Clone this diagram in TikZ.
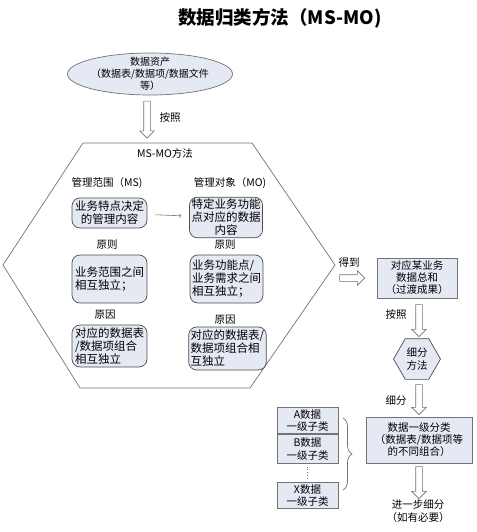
\documentclass[tikz,border=0pt]{standalone}
\usepackage{fontspec}
\setmainfont{Noto Sans CJK SC}
\usetikzlibrary{shapes.geometric, shapes.arrows, arrows.meta, arrows, positioning, decorations.pathreplacing}
\definecolor{boxfill}{RGB}{228,233,243}
\definecolor{edgegray}{RGB}{115,115,115}
\tikzstyle{rbox}=[rectangle, draw=black!70, fill=boxfill, line width=0.7pt,
    rounded corners=8pt, inner sep=2pt,
    font=\fontsize{11.5}{13}\selectfont]
\tikzstyle{sbox}=[rectangle, draw=edgegray, fill=boxfill, line width=0.7pt,
    align=center, inner sep=2pt]
\tikzstyle{harrow}=[single arrow, draw=edgegray, fill=white, line width=0.6pt,
    inner sep=3pt, single arrow head extend=4pt, single arrow head indent=0pt]

\begin{document}
\begin{tikzpicture}
      [x=1pt, y=-1pt,
      font=\fontsize{10.5}{12.5}\selectfont,
      txt/.style={align=center, inner sep=1pt},
      line/.style={draw, edgegray, line width=0.6pt, shorten >=8pt, shorten <=8pt, ->, >=to}]
    \useasboundingbox (0,0) rectangle (476,532);

    \node [txt, font=\fontsize{18.5}{20}\selectfont\bfseries] (title) at (280,18) {数据归类方法（MS-MO)};

    \node [ellipse, draw=edgegray, fill=boxfill, line width=0.7pt, align=center,
      minimum width=165, minimum height=42, inner xsep=-2pt, inner ysep=-3pt,
      font=\fontsize{10}{12}\selectfont] (asset) at (150,74) {数据资产\\（数据表/数据项/数据文件\\等）};
    \node [harrow, rotate=-90, minimum height=37] (byA) at (147,118) {};
    \node [txt] (byAtext) at (170,118) {按照};

    \draw [edgegray, line width=0.7pt] (83,143) -- (252,143) -- (335,265) -- (250,388) -- (80,388) -- (3,265) -- cycle;
    \coordinate (hexR) at (335,265);
    \node [txt] (method) at (165,153) {MS-MO方法};
    \node [txt] (msHead) at (107,183) {管理范围（MS)};
    \node [txt] (moHead) at (230,183) {管理对象（MO)};

    \node [rbox, align=center, minimum width=75, minimum height=30] (ms1) at (109.5,213) {业务特点决定\\的管理内容};
    \node [rbox, align=center, minimum width=72, minimum height=35] (mo1) at (226,217.5) {特定业务功能\\点对应的数据\\内容};
    \node [txt] (msRule) at (107,245) {原则};
    \node [txt] (moRule) at (225,245) {原则};
    \node [rbox, align=left, minimum width=75, minimum height=48] (ms2) at (109.5,279) {业务范围之间\\相互独立；};
    \node [rbox, align=left, minimum width=73, minimum height=48] (mo2) at (226.5,279) {业务功能点/\\业务需求之间\\相互独立；};
    \node [txt] (msWhy) at (105,315) {原因};
    \node [txt] (moWhy) at (225,320) {原因};
    \node [rbox, align=left, minimum width=75, minimum height=42] (ms3) at (109.5,346) {对应的数据表\\/数据项组合\\相互独立};
    \node [rbox, align=left, minimum width=75, minimum height=43] (mo3) at (227.5,348.5) {对应的数据表/\\数据项组合相\\互独立};

    \node [harrow, minimum height=25] (get) at (350.5,278) {};
    \node [txt] (getText) at (349,263) {得到};
    \node [sbox, minimum width=80, minimum height=40, font=\fontsize{10.5}{12}\selectfont] (total) at (417,278) {对应某业务\\数据总和\\（过渡成果）};
    \node [harrow, rotate=-90, minimum height=32] (byB) at (419,319) {};
    \node [txt] (byBtext) at (396,315) {按照};
    \node [regular polygon, regular polygon sides=6, draw=black!70, fill=boxfill, line width=0.7pt,
      minimum size=47, inner sep=0pt, align=center] (split) at (417,359) {细分\\方法};
    \node [harrow, rotate=-90, minimum height=30] (splitArr) at (419,398) {};
    \node [txt] (splitText) at (396,400) {细分};
    \node [sbox, minimum width=106, minimum height=46, font=\fontsize{10.5}{12}\selectfont] (lvl1) at (419,440) {数据一级分类\\（数据表/数据项等\\的不同组合）};
    \node [harrow, rotate=-90, minimum height=32] (moreArr) at (419,481) {};
    \node [txt, font=\fontsize{10.5}{12.5}\selectfont] (more) at (418,511) {进一步细分\\（如有必要）};

    \node [sbox, minimum width=61, minimum height=25] (subA) at (307.5,420.5) {A数据\\一级子类};
    \node [sbox, minimum width=61, minimum height=29, below=0pt of subA] (subB) {B数据\\一级子类};
    \node [sbox, minimum width=61, minimum height=25] (subX) at (307.5,495.5) {X数据\\一级子类};
    \coordinate (braceTop) at (343,418);
    \coordinate (braceBot) at (343,490);

    \begin{scope}[every path/.style=line]
      \path (ms1) -- (mo1);
    \end{scope}
    \draw [edgegray, dotted, line width=0.8pt, shorten >=3pt, shorten <=3pt] (subB.south) -- (subX.north);
    \draw [edgegray, line width=0.7pt, decorate, decoration={brace, amplitude=9pt}] (braceTop) -- (braceBot);

\end{tikzpicture}
\end{document}
